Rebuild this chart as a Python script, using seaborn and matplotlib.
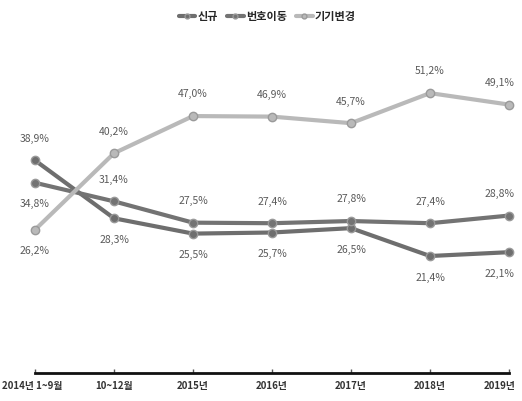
import matplotlib
matplotlib.use("Agg")
import matplotlib.pyplot as plt
from matplotlib.transforms import ScaledTranslation
import seaborn as sns
import pandas as pd

periods = ["2014년 1~9월", "10~12월", "2015년", "2016년", "2017년", "2018년", "2019년"]
new_sub = [38.9, 28.3, 25.5, 25.7, 26.5, 21.4, 22.1]
portability = [34.8, 31.4, 27.5, 27.4, 27.8, 27.4, 28.8]
device_change = [26.2, 40.2, 47.0, 46.9, 45.7, 51.2, 49.1]
series_names = ["신규", "번호이동", "기기변경"]

sns.set_theme(style="white")
plt.rcParams['font.family'] = ['Noto Sans CJK KR', 'DejaVu Sans']

rows = []
for name, vals in zip(series_names, [new_sub, portability, device_change]):
    for i, v in enumerate(vals):
        rows.append({"x": i, "period": periods[i], "value": v, "series": name})
df = pd.DataFrame(rows)

palette = {"신규": "#6e6e6e", "번호이동": "#737373", "기기변경": "#b9b9b9"}

fig = plt.figure(figsize=(5.22, 4.01), dpi=100)
ax = fig.add_axes([35/522, 1-373/401, 474/522, 328/401])

sns.lineplot(data=df, x="x", y="value", hue="series", palette=palette,
             marker="o", markersize=6, linewidth=3, ax=ax, clip_on=False,
             markeredgecolor="#9a9a9a", markeredgewidth=1)
for line in ax.lines:
    line.set_clip_on(False)

ax.set_xlim(0, 6)
ax.set_ylim(0, 60)
ax.set_xticks(range(len(periods)))
ax.set_xticklabels(periods, fontsize=7, color="#333333", fontweight="bold")
ax.set_yticks([])
ax.set_xlabel("")
ax.set_ylabel("")
for s in ["top", "right", "left"]:
    ax.spines[s].set_visible(False)
ax.spines["bottom"].set_color("#111111")
ax.spines["bottom"].set_linewidth(2)
ax.tick_params(axis="x", direction="in", length=3, width=1, color="#555555", pad=6, bottom=True)

last = ax.get_xticklabels()[-1]
last.set_transform(last.get_transform() + ScaledTranslation(-7/72, 0, fig.dpi_scale_trans))
first = ax.get_xticklabels()[0]
first.set_transform(first.get_transform() + ScaledTranslation(-2/72, 0, fig.dpi_scale_trans))

# value labels: above (+) or below (-)
placement = {
    "신규": [1, -1, -1, -1, -1, -1, -1],
    "번호이동": [-1, 1, 1, 1, 1, 1, 1],
    "기기변경": [-1, 1, 1, 1, 1, 1, 1],
}
for name, vals in zip(series_names, [new_sub, portability, device_change]):
    for i, v in enumerate(vals):
        d = placement[name][i]
        dx = -7 if i == len(vals) - 1 else 0
        ax.annotate(f"{v:.1f}%".replace(".", ","), (i, v), xytext=(dx, 12 * d),
                    textcoords="offset points", ha="center",
                    va="bottom" if d > 0 else "top", fontsize=7.5,
                    color="#5a5a5a", annotation_clip=False)

leg = ax.legend(loc="upper center", bbox_to_anchor=(0.49, 1 + 45/328), ncol=3,
                frameon=False, handlelength=1.5, handletextpad=0.2,
                columnspacing=0.8, prop={"weight": "bold", "size": 8})
for h in leg.get_lines():
    h.set_linewidth(3)
    h.set_markersize(3.5)

fig.savefig("out.png", dpi=100)
